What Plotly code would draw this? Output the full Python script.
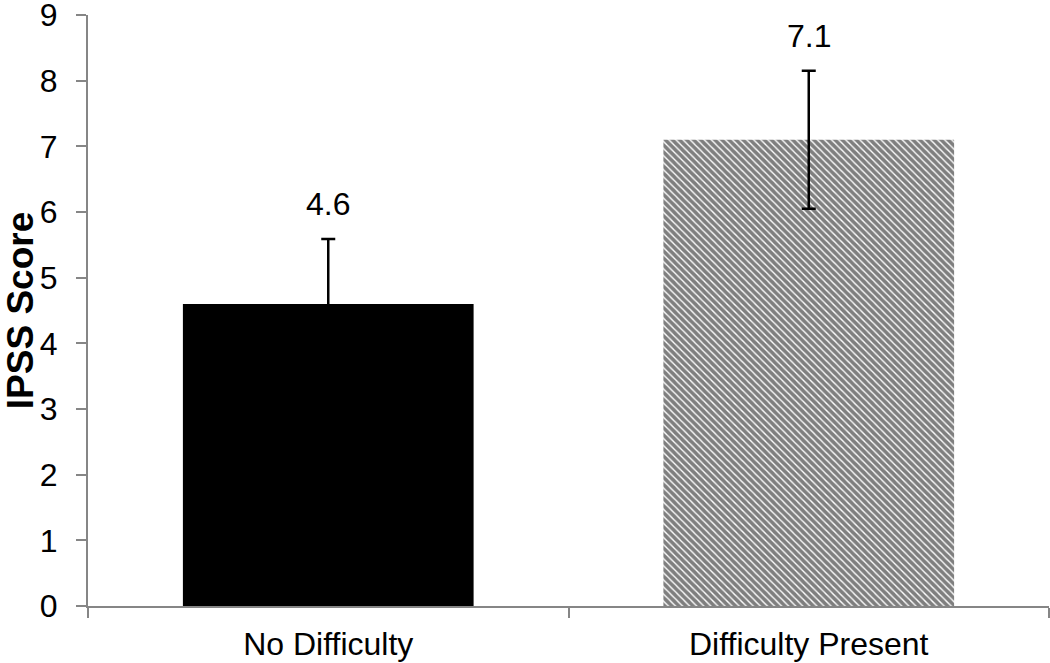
import plotly.graph_objects as go

categories = ["No Difficulty", "Difficulty Present"]
scores = [4.6, 7.1]
errors = [0.99, 1.05]
label_texts = ["4.6", "7.1"]
bar_colors = ["black", "white"]
bar_patterns = ["", "\\"]
y_ticks = [0, 1, 2, 3, 4, 5, 6, 7, 8, 9]

FONT = "Liberation Sans, Arial, sans-serif"
AXIS_GRAY = "#868686"

fig = go.Figure()
for c, v, e, col, pat in zip(categories, scores, errors, bar_colors, bar_patterns):
    fig.add_trace(go.Bar(
        x=[c],
        y=[v],
        width=0.605,
        marker=dict(
            color=col,
            line=dict(width=0),
            pattern=dict(shape=pat, fgcolor="black", bgcolor="white",
                         size=5, solidity=0.72, fillmode="overlay"),
        ),
        error_y=dict(type="data", array=[e], visible=True,
                     color="black", thickness=2.5, width=7),
        showlegend=False,
        hoverinfo="skip",
    ))

for c, v, e, t in zip(categories, scores, errors, label_texts):
    fig.add_annotation(x=c, y=v + e, text=t, showarrow=False,
                       yshift=35, font=dict(size=32, color="black", family=FONT))

fig.update_layout(
    width=1050, height=663,
    margin=dict(l=88, r=1, t=15, b=57),
    paper_bgcolor="white", plot_bgcolor="white",
    font=dict(family=FONT, color="black"),
    barmode="overlay",
)
fig.update_xaxes(
    type="category", categoryorder="array", categoryarray=categories,
    automargin=False,
    showline=True, linecolor=AXIS_GRAY, linewidth=2,
    ticks="outside", tickson="boundaries", ticklen=10, tickwidth=2, tickcolor=AXIS_GRAY,
    tickfont=dict(size=32, color="black", family=FONT),
    ticklabelstandoff=9,
    showgrid=False, zeroline=False,
)
fig.update_yaxes(
    range=[0, 9], tickmode="array", tickvals=y_ticks,
    automargin=False, ticklabeloverflow="allow",
    showline=True, linecolor=AXIS_GRAY, linewidth=2,
    ticks="outside", ticklen=10, tickwidth=2, tickcolor=AXIS_GRAY,
    tickfont=dict(size=32, color="black", family=FONT),
    ticklabelstandoff=12,
    showgrid=False, zeroline=False,
    title=dict(text="<b>IPSS Score</b>", font=dict(size=37, color="black", family=FONT), standoff=0),
)

fig.write_html("out.html",
               config={"displayModeBar": False},
               post_script="document.body.style.margin='0';document.body.style.overflow='hidden';")
